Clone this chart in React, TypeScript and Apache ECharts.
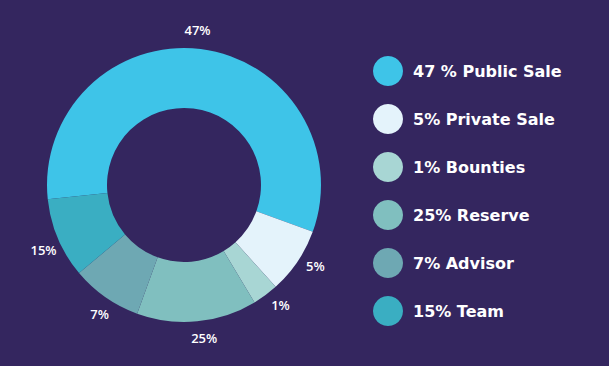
import React, { useEffect, useRef } from "react";
import * as echarts from "echarts";

// Legend entries (categories)
const categories = [
  "47 % Public Sale",
  "5% Private Sale",
  "1% Bounties",
  "25% Reserve",
  "7% Advisor",
  "15% Team",
];
// Percent labels printed around the ring
const sliceLabels = ["47%", "5%", "1%", "25%", "7%", "15%"];
// Visual share of each slice as drawn in the picture (degrees of arc)
const sliceArcs = [206, 28, 11, 51, 30, 34];
const colors = ["#3ec4e8", "#e4f3fb", "#a8d6d4", "#80bfbf", "#6ea8b3", "#3aaec2"];

export default function App() {
  const ref = useRef<HTMLDivElement>(null);
  useEffect(() => {
    if (!ref.current) return;
    const chart = echarts.init(ref.current, undefined, { renderer: "svg" });
    const data = categories.map((name, i) => ({
      name,
      value: sliceArcs[i],
      itemStyle: { color: colors[i] },
    }));
    const labelData = categories.map((name, i) => ({
      name: name + " ",
      value: sliceArcs[i],
      label: { formatter: sliceLabels[i] },
    }));
    chart.setOption({
      animation: false,
      backgroundColor: "#34265f",
      color: colors,
      legend: {
        orient: "vertical",
        left: 368,
        top: 51,
        icon: "circle",
        itemWidth: 30,
        itemHeight: 30,
        itemGap: 18,
        selectedMode: false,
        data: categories,
        textStyle: {
          color: "#ffffff",
          fontFamily: "DejaVu Sans",
          fontSize: 16,
          fontWeight: 600,
          padding: [0, 0, 0, 5],
        },
      },
      series: [
        {
          type: "pie",
          center: [184, 185],
          radius: [77, 137],
          startAngle: 186,
          clockwise: true,
          silent: true,
          label: { show: false },
          labelLine: { show: false },
          data,
        },
        {
          type: "pie",
          center: [184, 184],
          radius: [147, 157],
          startAngle: 188,
          clockwise: true,
          silent: true,
          itemStyle: { color: "rgba(0,0,0,0)" },
          label: {
            show: true,
            position: "inside",
            color: "#ffffff",
            fontFamily: "Open Sans",
            fontSize: 13,
            fontWeight: 600,
          },
          labelLine: { show: false },
          data: labelData,
        },
      ],
    });
    return () => chart.dispose();
  }, []);
  return (
    <div
      ref={ref}
      style={{ position: "absolute", left: 0, top: 0, width: 609, height: 366 }}
    />
  );
}
